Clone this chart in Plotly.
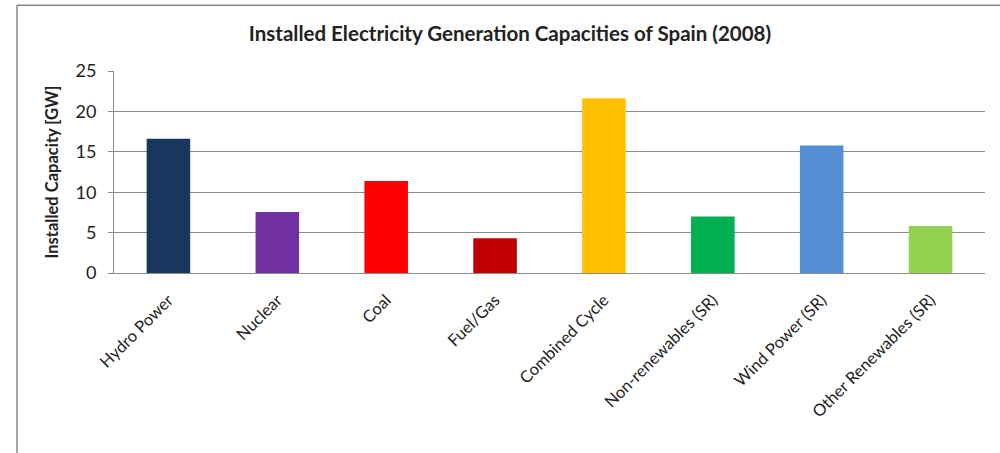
import plotly.graph_objects as go

# Installed capacity by generation technology, Spain 2008 (GW)
categories = [
    "Hydro Power", "Nuclear", "Coal", "Fuel/Gas", "Combined Cycle",
    "Non-renewables (SR)", "Wind Power (SR)", "Other Renewables (SR)",
]
capacity_gw = [16.6, 7.55, 11.38, 4.3, 21.63, 6.98, 15.78, 5.83]
bar_colors = [
    "#17375E", "#7030A0", "#FF0000", "#C00000",
    "#FFC000", "#00B050", "#558ED5", "#92D050",
]
y_ticks = [0, 5, 10, 15, 20, 25]

FONT = "Lato, 'Open Sans', sans-serif"

fig = go.Figure(
    go.Bar(
        x=categories,
        y=capacity_gw,
        marker=dict(color=bar_colors, line=dict(width=0)),
        width=0.4,
    )
)

fig.update_layout(
    width=1000,
    height=453,
    margin=dict(l=114, r=15, t=71, b=179.5),
    paper_bgcolor="white",
    plot_bgcolor="white",
    showlegend=False,
    title=dict(
        text="<b>Installed Electricity Generation Capacities of Spain (2008)</b>",
        x=0.51,
        xanchor="center",
        y=0.925,
        yanchor="middle",
        font=dict(family=FONT, size=20.5, color="#222222"),
    ),
    font=dict(family=FONT, color="#222222"),
)

fig.update_yaxes(
    range=[0, 25],
    tickvals=y_ticks,
    showgrid=True,
    gridcolor="#8c8c8c",
    gridwidth=1,
    zeroline=False,
    showline=True,
    linecolor="#8c8c8c",
    linewidth=1,
    ticks="outside",
    ticklen=5,
    tickcolor="#8c8c8c",
    ticklabelstandoff=8,
    tickfont=dict(size=18, color="#222222"),
    title=dict(
        text="<b>Installed Capacity [GW]</b>",
        font=dict(size=16.5, color="#222222"),
        standoff=12,
    ),
)

fig.update_xaxes(
    showline=True,
    linecolor="#8c8c8c",
    linewidth=1,
    tickangle=-45,
    ticklabelstandoff=10,
    tickfont=dict(size=16.5, color="#222222"),
    ticks="",
)

# Chart frame: left and top edges of the surrounding border
border = dict(color="#8a8a8a", width=1.5)
fig.add_shape(type="line", xref="paper", yref="paper",
              x0=-0.1114, x1=-0.1114, y0=1.326, y1=-0.9, line=border)
fig.add_shape(type="line", xref="paper", yref="paper",
              x0=-0.1114, x1=1.02, y0=1.326, y1=1.326, line=border)

fig.write_html("out.html")
